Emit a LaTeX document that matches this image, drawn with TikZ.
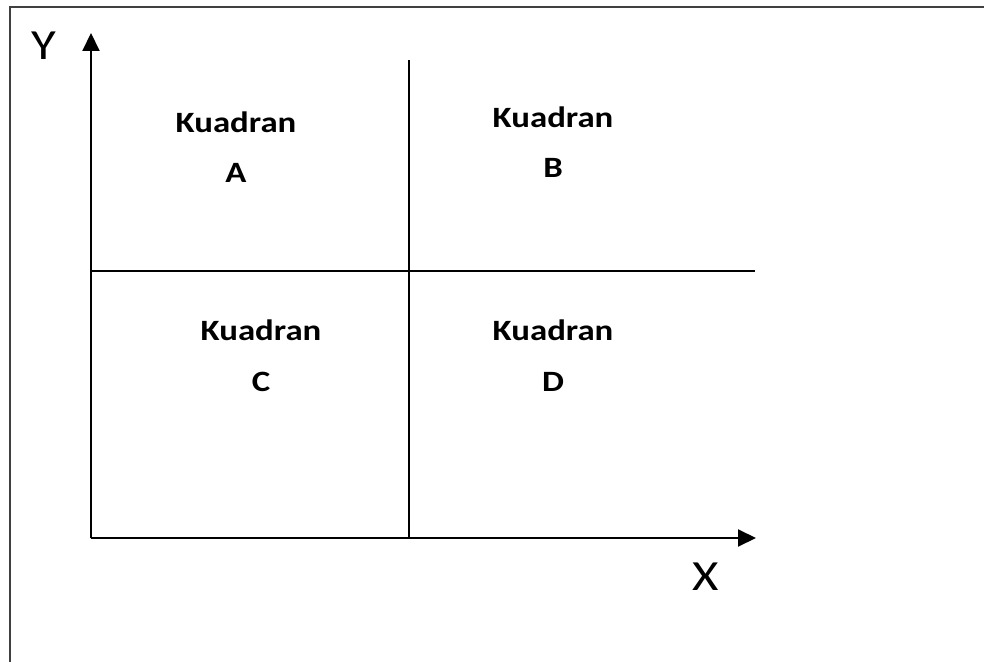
\documentclass[tikz,border=0pt]{standalone}
\usepackage{fontspec}
\newfontfamily\quadfont[FakeStretch=1.18]{Carlito}
\usepackage{tikz}
\usetikzlibrary{positioning,arrows.meta,calc}
\tikzset{
  axis/.style={-{Triangle[length=9pt,width=8.5pt]},line width=1pt},
  divline/.style={line width=1pt},
  frameln/.style={line width=1.4pt,black!75},
  qlabel/.style={font=\quadfont\bfseries\fontsize{14.75}{25}\selectfont,align=center,inner sep=0pt,anchor=base},
  axlabel/.style={font=\quadfont\fontsize{21.5}{24}\selectfont,inner sep=0pt},
}

\begin{document}
\begin{tikzpicture}[x=0.5pt,y=-0.5pt]
  \useasboundingbox (0,0) rectangle (984,662);
  % frame (top and left edges only)
  \draw[frameln] (984,7) -- (10,7) -- (10,662);
  % axes
  \coordinate (O) at (91,538);
  \coordinate (ytip) at (91,33);
  \coordinate (xtip) at (756,538);
  \draw[axis] (O) -- (ytip);
  \draw[axis] (O) -- (xtip);
  \node[axlabel] (ylbl) at (44,46) {Y};
  \node[axlabel] (xlbl) at (706,577) {X};
  % quadrant dividers
  \coordinate (vtop) at (409,60);
  \coordinate (vbot) at (409,538);
  \coordinate (hleft) at (91,271);
  \coordinate (hright) at (755,271);
  \draw[divline] (vtop) -- (vbot);
  \draw[divline] (hleft) -- (hright);
  % quadrant names (anchor = baseline of the letter line)
  \node[qlabel] (qa) at (236,183) {Kuadran\\A};
  \node[qlabel] (qb) at (553,178) {Kuadran\\B};
  \node[qlabel] (qc) at (261,391) {Kuadran\\C};
  \node[qlabel] (qd) at (553,391) {Kuadran\\D};
\end{tikzpicture}
\end{document}
